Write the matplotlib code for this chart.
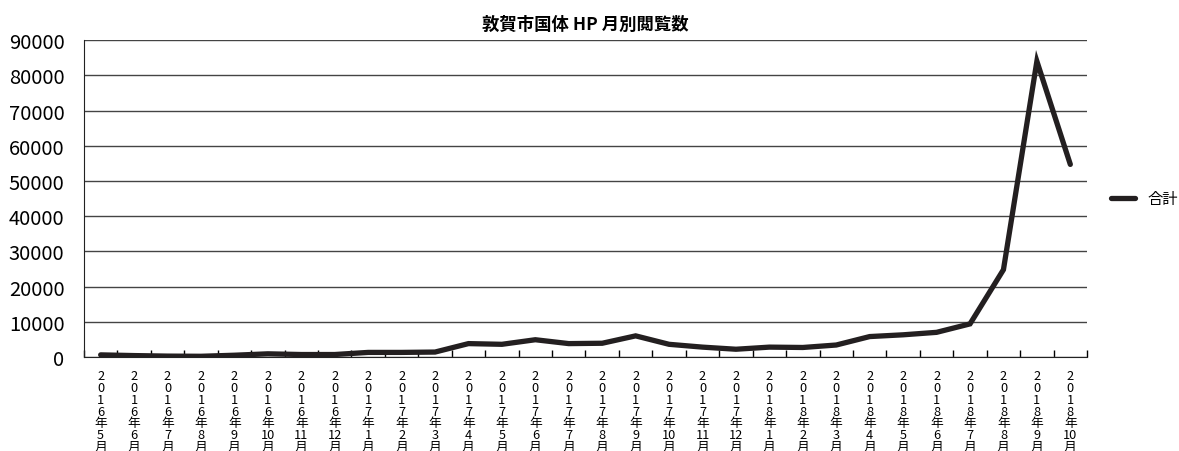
import numpy as np
from matplotlib import pyplot as plt

plt.rcParams['font.family'] = ['Noto Sans CJK JP', 'DejaVu Sans']

# 月 (2016年5月〜2018年10月)
years = [2016]*8 + [2017]*12 + [2018]*10
months = list(range(5, 13)) + list(range(1, 13)) + list(range(1, 11))
# 閲覧数 合計
views = [600, 400, 250, 200, 500, 900, 700, 700, 1300, 1300,
         1400, 3800, 3600, 4900, 3800, 3900, 6000, 3600, 2800, 2200,
         2800, 2700, 3400, 5800, 6300, 7000, 9400, 24800, 84000, 54700]

title = '敦賀市国体 HP 月別閲覧数'
labels = ['\n'.join(list('%d' % y) + ['年', '%d' % m, '月'])
          for y, m in zip(years, months)]


def main():
    fig = plt.figure(figsize=(11.79, 4.52), dpi=100)
    ax = fig.add_axes([0.0712, 0.208, 0.8508, 0.701])
    x = np.arange(len(views))
    ax.plot(x, views, color='#231f20', linewidth=3.8, label='合計',
            solid_joinstyle='miter', solid_capstyle='round')

    ax.set_xlim(-0.5, len(views) - 0.5)
    ax.set_ylim(0, 90000)
    ax.set_yticks(np.arange(0, 90001, 10000))
    ax.set_yticklabels(['%d' % v for v in np.arange(0, 90001, 10000)], fontsize=14.5)
    ax.yaxis.grid(True, color='#444444', linewidth=1.0)
    ax.set_axisbelow(True)

    ax.set_xticks(x)
    ax.set_xticklabels(labels, fontsize=9.2, linespacing=0.87)
    ax.set_xticks(np.arange(-0.5, len(views)), minor=True)
    ax.tick_params(axis='x', which='major', length=0, pad=9)
    ax.tick_params(axis='x', which='minor', direction='in', length=5, width=1)
    ax.tick_params(axis='y', length=0, pad=14)

    for s in ['top', 'right']:
        ax.spines[s].set_visible(False)
    ax.spines['left'].set_color('#222222')
    ax.spines['bottom'].set_color('#222222')

    ax.set_title(title, fontsize=12.5, fontweight='bold', pad=8)
    ax.legend(loc='center left', bbox_to_anchor=(1.01, 0.5), frameon=False,
              fontsize=11, handlelength=1.6)
    fig.savefig('out.png', dpi=100)


if __name__ == "__main__":
    main()
